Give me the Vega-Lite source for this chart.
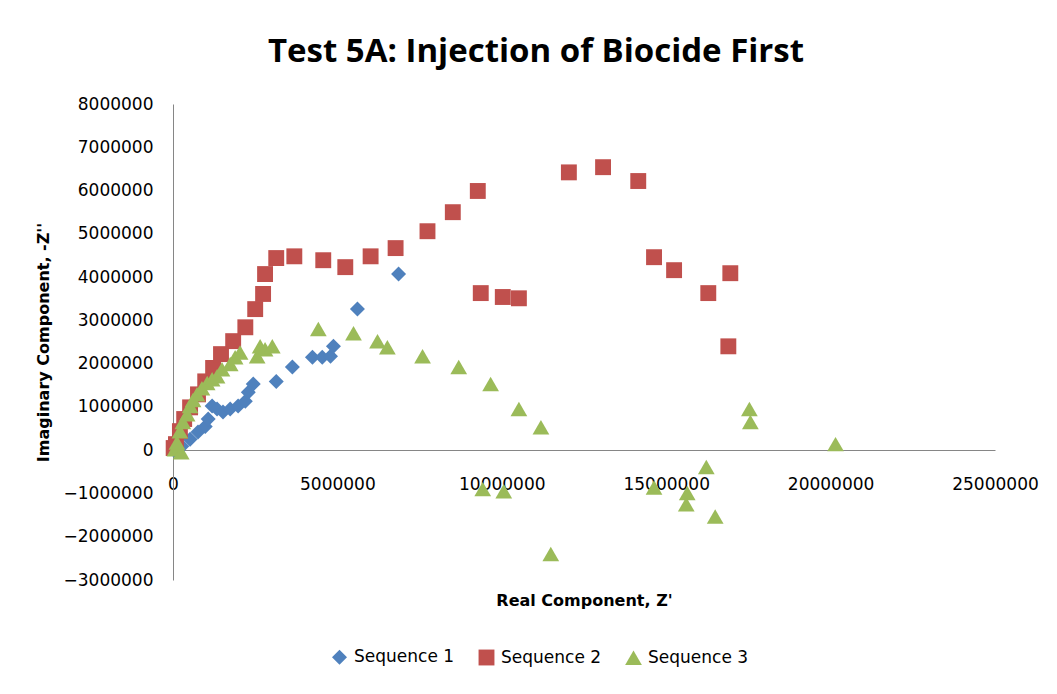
{
  "$schema": "https://vega.github.io/schema/vega-lite/v6.json",
  "width": 822,
  "height": 476,
  "autosize": {"type": "none"},
  "padding": {"left": 173, "top": 104, "right": 62, "bottom": 114},
  "background": "white",
  "title": {
    "text": "Test 5A: Injection of Biocide First",
    "font": "Open Sans",
    "fontSize": 33,
    "fontWeight": "bold",
    "color": "#000000",
    "anchor": "middle",
    "dx": -48,
    "offset": 26
  },
  "config": {
    "view": {"stroke": null},
    "axis": {
      "grid": false,
      "ticks": false,
      "tickSize": 0,
      "domainColor": "#868686",
      "domainWidth": 1,
      "labelFont": "DejaVu Sans",
      "labelFontSize": 17,
      "labelColor": "#000000",
      "labelFlush": false,
      "labelOverlap": false,
      "labelBound": false,
      "titleFont": "DejaVu Sans",
      "titleFontSize": 16,
      "titleFontWeight": "bold",
      "titleColor": "#000000"
    }
  },
  "data": {
    "values": [
      {"s": "Sequence 1", "x": 30000, "y": 0},
      {"s": "Sequence 1", "x": 90000, "y": 20000},
      {"s": "Sequence 1", "x": 270000, "y": 90000},
      {"s": "Sequence 1", "x": 520000, "y": 250000},
      {"s": "Sequence 1", "x": 760000, "y": 420000},
      {"s": "Sequence 1", "x": 980000, "y": 550000},
      {"s": "Sequence 1", "x": 1070000, "y": 720000},
      {"s": "Sequence 1", "x": 1190000, "y": 1020000},
      {"s": "Sequence 1", "x": 1340000, "y": 950000},
      {"s": "Sequence 1", "x": 1520000, "y": 880000},
      {"s": "Sequence 1", "x": 1740000, "y": 950000},
      {"s": "Sequence 1", "x": 1980000, "y": 1020000},
      {"s": "Sequence 1", "x": 2200000, "y": 1130000},
      {"s": "Sequence 1", "x": 2290000, "y": 1340000},
      {"s": "Sequence 1", "x": 2440000, "y": 1530000},
      {"s": "Sequence 1", "x": 3140000, "y": 1590000},
      {"s": "Sequence 1", "x": 3630000, "y": 1920000},
      {"s": "Sequence 1", "x": 4240000, "y": 2150000},
      {"s": "Sequence 1", "x": 4540000, "y": 2150000},
      {"s": "Sequence 1", "x": 4790000, "y": 2170000},
      {"s": "Sequence 1", "x": 4880000, "y": 2400000},
      {"s": "Sequence 1", "x": 5610000, "y": 3260000},
      {"s": "Sequence 1", "x": 6860000, "y": 4070000},
      {"s": "Sequence 2", "x": 20000, "y": 50000},
      {"s": "Sequence 2", "x": 90000, "y": 140000},
      {"s": "Sequence 2", "x": 210000, "y": 440000},
      {"s": "Sequence 2", "x": 340000, "y": 720000},
      {"s": "Sequence 2", "x": 520000, "y": 990000},
      {"s": "Sequence 2", "x": 760000, "y": 1290000},
      {"s": "Sequence 2", "x": 980000, "y": 1590000},
      {"s": "Sequence 2", "x": 1220000, "y": 1900000},
      {"s": "Sequence 2", "x": 1460000, "y": 2220000},
      {"s": "Sequence 2", "x": 1830000, "y": 2520000},
      {"s": "Sequence 2", "x": 2200000, "y": 2840000},
      {"s": "Sequence 2", "x": 2500000, "y": 3260000},
      {"s": "Sequence 2", "x": 2740000, "y": 3610000},
      {"s": "Sequence 2", "x": 2800000, "y": 4070000},
      {"s": "Sequence 2", "x": 3140000, "y": 4440000},
      {"s": "Sequence 2", "x": 3690000, "y": 4480000},
      {"s": "Sequence 2", "x": 4570000, "y": 4390000},
      {"s": "Sequence 2", "x": 5240000, "y": 4230000},
      {"s": "Sequence 2", "x": 6010000, "y": 4480000},
      {"s": "Sequence 2", "x": 6770000, "y": 4670000},
      {"s": "Sequence 2", "x": 7740000, "y": 5060000},
      {"s": "Sequence 2", "x": 8510000, "y": 5500000},
      {"s": "Sequence 2", "x": 9270000, "y": 5990000},
      {"s": "Sequence 2", "x": 12040000, "y": 6420000},
      {"s": "Sequence 2", "x": 13080000, "y": 6540000},
      {"s": "Sequence 2", "x": 14150000, "y": 6220000},
      {"s": "Sequence 2", "x": 14630000, "y": 4460000},
      {"s": "Sequence 2", "x": 15240000, "y": 4160000},
      {"s": "Sequence 2", "x": 16280000, "y": 3630000},
      {"s": "Sequence 2", "x": 16950000, "y": 4090000},
      {"s": "Sequence 2", "x": 16890000, "y": 2400000},
      {"s": "Sequence 2", "x": 9360000, "y": 3630000},
      {"s": "Sequence 2", "x": 10030000, "y": 3540000},
      {"s": "Sequence 2", "x": 10520000, "y": 3510000},
      {"s": "Sequence 3", "x": 60000, "y": 20000},
      {"s": "Sequence 3", "x": 250000, "y": -50000},
      {"s": "Sequence 3", "x": 120000, "y": 180000},
      {"s": "Sequence 3", "x": 210000, "y": 440000},
      {"s": "Sequence 3", "x": 300000, "y": 650000},
      {"s": "Sequence 3", "x": 430000, "y": 830000},
      {"s": "Sequence 3", "x": 520000, "y": 1020000},
      {"s": "Sequence 3", "x": 610000, "y": 1160000},
      {"s": "Sequence 3", "x": 730000, "y": 1290000},
      {"s": "Sequence 3", "x": 880000, "y": 1430000},
      {"s": "Sequence 3", "x": 1040000, "y": 1550000},
      {"s": "Sequence 3", "x": 1190000, "y": 1640000},
      {"s": "Sequence 3", "x": 1340000, "y": 1710000},
      {"s": "Sequence 3", "x": 1490000, "y": 1870000},
      {"s": "Sequence 3", "x": 1740000, "y": 1990000},
      {"s": "Sequence 3", "x": 1890000, "y": 2150000},
      {"s": "Sequence 3", "x": 2040000, "y": 2260000},
      {"s": "Sequence 3", "x": 2560000, "y": 2170000},
      {"s": "Sequence 3", "x": 2650000, "y": 2400000},
      {"s": "Sequence 3", "x": 2800000, "y": 2330000},
      {"s": "Sequence 3", "x": 3020000, "y": 2400000},
      {"s": "Sequence 3", "x": 4420000, "y": 2800000},
      {"s": "Sequence 3", "x": 5490000, "y": 2700000},
      {"s": "Sequence 3", "x": 6220000, "y": 2520000},
      {"s": "Sequence 3", "x": 6520000, "y": 2380000},
      {"s": "Sequence 3", "x": 7590000, "y": 2170000},
      {"s": "Sequence 3", "x": 8690000, "y": 1920000},
      {"s": "Sequence 3", "x": 9660000, "y": 1530000},
      {"s": "Sequence 3", "x": 10520000, "y": 950000},
      {"s": "Sequence 3", "x": 11190000, "y": 530000},
      {"s": "Sequence 3", "x": 9420000, "y": -900000},
      {"s": "Sequence 3", "x": 10060000, "y": -950000},
      {"s": "Sequence 3", "x": 11490000, "y": -2400000},
      {"s": "Sequence 3", "x": 14630000, "y": -860000},
      {"s": "Sequence 3", "x": 15640000, "y": -990000},
      {"s": "Sequence 3", "x": 15610000, "y": -1250000},
      {"s": "Sequence 3", "x": 16490000, "y": -1530000},
      {"s": "Sequence 3", "x": 16220000, "y": -390000},
      {"s": "Sequence 3", "x": 17530000, "y": 950000},
      {"s": "Sequence 3", "x": 17560000, "y": 650000},
      {"s": "Sequence 3", "x": 20150000, "y": 140000}
    ]
  },
  "mark": {"type": "point", "filled": true, "opacity": 1},
  "encoding": {
    "x": {
      "field": "x",
      "type": "quantitative",
      "scale": {"domain": [0, 25000000], "nice": false, "zero": false},
      "axis": {
        "title": "Real Component, Z'",
        "values": [0, 5000000, 10000000, 15000000, 20000000, 25000000],
        "format": "d",
        "offset": -130,
        "labelPadding": 26,
        "titlePadding": 100
      }
    },
    "y": {
      "field": "y",
      "type": "quantitative",
      "scale": {"domain": [-3000000, 8000000], "nice": false, "zero": false},
      "axis": {
        "title": "Imaginary Component, -Z''",
        "values": [-3000000, -2000000, -1000000, 0, 1000000, 2000000, 3000000, 4000000, 5000000, 6000000, 7000000, 8000000],
        "format": "d",
        "labelPadding": 20,
        "titlePadding": 12
      }
    },
    "color": {
      "field": "s",
      "type": "nominal",
      "scale": {"domain": ["Sequence 1", "Sequence 2", "Sequence 3"], "range": ["#4F81BD", "#C0504D", "#9BBB59"]},
      "legend": {
        "title": null,
        "orient": "none",
        "direction": "horizontal",
        "columns": 3,
        "legendX": 157,
        "legendY": 544,
        "padding": 0,
        "labelFont": "DejaVu Sans",
        "labelFontSize": 17,
        "labelColor": "#000000",
        "labelOffset": 5,
        "symbolSize": 120,
        "columnPadding": 22
      }
    },
    "shape": {
      "field": "s",
      "type": "nominal",
      "scale": {"domain": ["Sequence 1", "Sequence 2", "Sequence 3"], "range": ["diamond", "square", "triangle-up"]}
    },
    "size": {
      "field": "s",
      "type": "nominal",
      "scale": {"domain": ["Sequence 1", "Sequence 2", "Sequence 3"], "range": [225, 280, 230]},
      "legend": null
    }
  }
}
